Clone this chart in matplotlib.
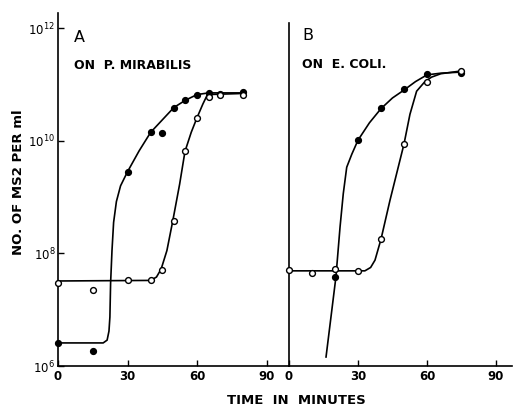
import matplotlib
matplotlib.use("Agg")
import matplotlib.pyplot as plt
import numpy as np

plt.rcParams["font.family"] = ["DejaVu Sans"]
plt.rcParams["mathtext.default"] = "regular"

# ---- data (log10 of phage count per ml) ----
# panel A: on P. mirabilis
a_filled_t = [0, 15, 30, 40, 45, 50, 55, 60, 65, 70, 80]
a_filled_log = [6.41, 6.27, 9.45, 10.16, 10.13, 10.59, 10.72, 10.82, 10.85, 10.83, 10.87]
a_open_t = [0, 15, 30, 40, 45, 50, 55, 60, 65, 70, 80]
a_open_log = [7.48, 7.35, 7.52, 7.52, 7.71, 8.57, 9.81, 10.41, 10.78, 10.82, 10.82]

# hand-drawn curves of panel A
a_filled_curve_t = [0, 19.5, 21.2, 22.0, 22.4, 22.7, 23.3, 24.0, 25.2, 27.0, 30, 35, 40, 45, 50, 55, 60, 65, 80]
a_filled_curve_log = [6.41, 6.41, 6.46, 6.62, 6.87, 7.47, 8.05, 8.55, 8.92, 9.20, 9.45, 9.82, 10.15, 10.37, 10.59, 10.72, 10.82, 10.85, 10.85]
a_open_curve_t = [0, 40, 42.5, 44.5, 47, 49.5, 52.5, 54.8, 57.5, 60, 62.5, 64.5, 80]
a_open_curve_log = [7.51, 7.52, 7.58, 7.72, 8.05, 8.57, 9.23, 9.81, 10.15, 10.41, 10.65, 10.82, 10.84]

# panel B: on E. coli
b_filled_t = [20, 30, 40, 50, 60, 75]
b_filled_log = [7.58, 10.02, 10.58, 10.92, 11.19, 11.21]
b_open_t = [0, 10, 20, 30, 40, 50, 60, 75]
b_open_log = [7.70, 7.65, 7.72, 7.69, 8.25, 9.94, 11.05, 11.24]

b_filled_curve_t = [16.1, 20.4, 22.2, 23.6, 25.1, 27.3, 30, 35, 40, 45, 50, 55, 60, 66, 75]
b_filled_curve_log = [6.16, 7.58, 8.47, 9.06, 9.53, 9.76, 10.01, 10.32, 10.57, 10.76, 10.90, 11.05, 11.17, 11.20, 11.22]
b_open_curve_t = [0, 33, 35.5, 37.4, 40, 43.9, 50, 52.6, 55.5, 59.1, 62, 66, 75]
b_open_curve_log = [7.69, 7.69, 7.75, 7.88, 8.25, 8.94, 9.94, 10.47, 10.88, 11.05, 11.13, 11.19, 11.24]

x_ticks = [0, 30, 60, 90]
y_ticks_log = [6, 8, 10, 12]


def pw(v):
    return 10 ** np.asarray(v, dtype=float)


fig = plt.figure(figsize=(5.16, 4.09), dpi=100)
ax_a = fig.add_axes([0.1124, 0.1051, 0.4477, 0.8633])
ax_b = fig.add_axes([0.5601, 0.1051, 0.4322, 0.8633])

lw = 1.2
for ax, xmax in ((ax_a, 99.7), (ax_b, 97)):
    ax.set_yscale("log")
    ax.set_ylim(1e6, 10 ** 12.27)
    ax.set_xlim(0, xmax)
    ax.spines["top"].set_visible(False)
    ax.spines["right"].set_visible(False)
    ax.spines["left"].set_linewidth(lw)
    ax.spines["bottom"].set_linewidth(lw)
    ax.set_xticks(x_ticks)
    ax.set_xticklabels([str(t) for t in x_ticks], fontsize=8.5, fontweight="bold")
    ax.tick_params(axis="x", direction="in", length=4, width=1, pad=3)
    ax.minorticks_off()

ax_a.set_yticks(pw(y_ticks_log))
ax_a.set_yticklabels(["$10^{%d}$" % v for v in y_ticks_log], fontsize=8.5)
ax_a.tick_params(axis="y", direction="in", length=4, width=1, pad=2)
ax_b.set_yticks([])
ax_b.spines["left"].set_bounds(1e6, 10 ** 12.09)

mk = dict(markersize=4.2, linestyle="none", zorder=3, clip_on=False)

# panel A
ax_a.plot(a_filled_curve_t, pw(a_filled_curve_log), color="black", lw=lw, clip_on=False)
ax_a.plot(a_open_curve_t, pw(a_open_curve_log), color="black", lw=lw, clip_on=False)
ax_a.plot(a_filled_t, pw(a_filled_log), marker="o", color="black", **mk)
ax_a.plot(a_open_t, pw(a_open_log), marker="o", markerfacecolor="white",
          markeredgecolor="black", markeredgewidth=1.0, **mk)

# panel B
ax_b.plot(b_filled_curve_t, pw(b_filled_curve_log), color="black", lw=lw, clip_on=False)
ax_b.plot(b_open_curve_t, pw(b_open_curve_log), color="black", lw=lw, clip_on=False)
ax_b.plot(b_filled_t, pw(b_filled_log), marker="o", color="black", **mk)
ax_b.plot(b_open_t, pw(b_open_log), marker="o", markerfacecolor="white",
          markeredgecolor="black", markeredgewidth=1.0, **mk)

# panel letters and captions
ax_a.text(0.07, 0.930, "A", transform=ax_a.transAxes, fontsize=11.5, ha="left", va="center")
ax_a.text(0.07, 0.851, "ON  P. MIRABILIS", transform=ax_a.transAxes, fontsize=9,
          fontweight="bold", ha="left", va="center")
ax_b.text(0.06, 0.935, "B", transform=ax_b.transAxes, fontsize=11.5, ha="left", va="center")
ax_b.text(0.06, 0.855, "ON  E. COLI.", transform=ax_b.transAxes, fontsize=9,
          fontweight="bold", ha="left", va="center")

fig.text(0.035, 0.555, "NO. OF MS2 PER ml", rotation=90, fontsize=9.5,
         fontweight="bold", ha="center", va="center")
fig.text(0.574, 0.022, "TIME  IN  MINUTES", fontsize=9.5, fontweight="bold",
         ha="center", va="center")

fig.savefig("out.png", dpi=100)
